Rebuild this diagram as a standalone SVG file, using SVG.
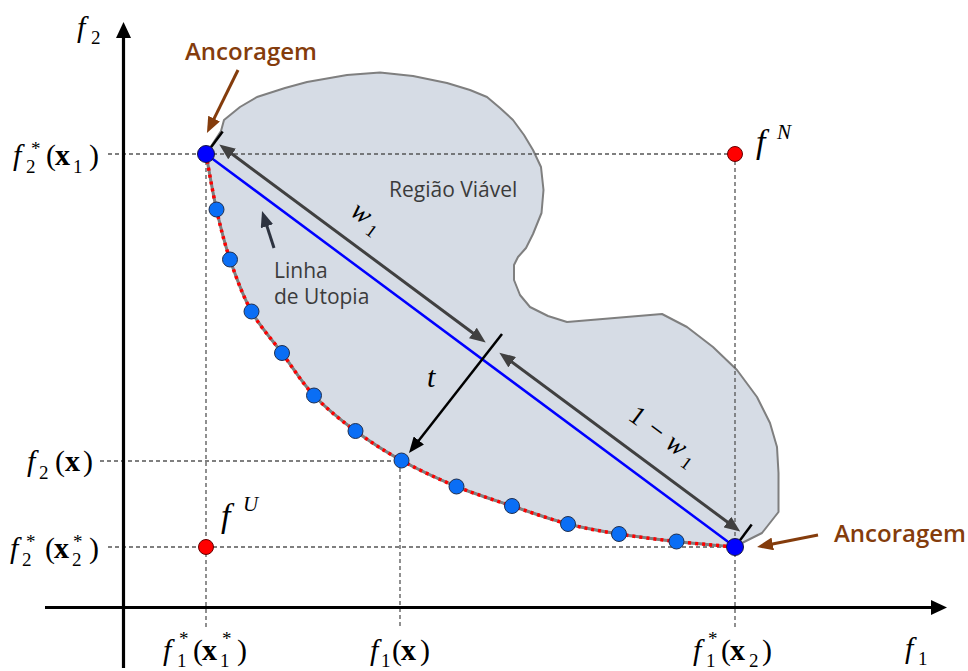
<svg xmlns="http://www.w3.org/2000/svg" width="968" height="671" viewBox="0 0 968 671">
<style>
.m{font-family:"Liberation Serif","Times New Roman",serif;font-size:30px;fill:#000}
.i{font-style:italic}
.b{font-weight:bold}
.s{font-size:19px}
.lbl{font-family:"Open Sans","Noto Sans",sans-serif;font-size:21px;fill:#3b3b3b}
.anc{font-family:"Open Sans","Noto Sans",sans-serif;font-size:24px;font-weight:600;fill:#843c0c}
.dash{stroke:#555;stroke-width:1.3;stroke-dasharray:4 3;fill:none}
.pt{fill:#0a6ef5;stroke:#1f2f4f;stroke-width:1}
.anchor{fill:#0000ff;stroke:#1a1a40;stroke-width:1}
.red{fill:#ff0000;stroke:#600;stroke-width:1}
</style>
<defs>
<marker id="ax" markerUnits="userSpaceOnUse" markerWidth="16" markerHeight="15" refX="8" refY="7.5" orient="auto-start-reverse"><path d="M0,0 L16,7.5 L0,15 z" fill="#000"/></marker>
<marker id="dg" markerUnits="userSpaceOnUse" markerWidth="16" markerHeight="13" refX="8" refY="6.5" orient="auto-start-reverse"><path d="M0,0 L16,6.5 L0,13 z" fill="#404040"/></marker>
<marker id="bk" markerUnits="userSpaceOnUse" markerWidth="16" markerHeight="13" refX="8" refY="6.5" orient="auto"><path d="M0,0 L16,6.5 L0,13 z" fill="#000"/></marker>
<marker id="nv" markerUnits="userSpaceOnUse" markerWidth="16" markerHeight="13" refX="8" refY="6.5" orient="auto"><path d="M0,0 L16,6.5 L0,13 z" fill="#2d3340"/></marker>
<marker id="br" markerUnits="userSpaceOnUse" markerWidth="16" markerHeight="13" refX="8" refY="6.5" orient="auto"><path d="M0,0 L16,6.5 L0,13 z" fill="#843c0c"/></marker>
</defs>

<g id="regiao-viavel">
<path d="M206,154 L221,131 L224,120 L240,107 L257,97 L285,88 L307,82 L347,75 L380,72.5 L413,76 L447,83 L470,90 L487,97 L500,108 L513,120 L524,135 L533,150 L541,167 L543.5,190 L541.5,213 L533,234 L526,248 L518,257 L514,265 L514,280 L520,295 L530,307 L548,316 L567,322 L662,314 L687,327 L713,347 L737,370 L757,397 L770,423 L777,447 L778.5,473 L778.5,512 L762,533 L742,543 L735,547 C725.25,546.1 695.8,543.7 676.5,541.5 C657.2,539.3 637.1,536.9 619,534 C600.9,531.1 585.8,528.7 568,524 C550.2,519.3 530.6,512.25 512,506 C493.4,499.75 474.9,494.1 456.5,486.5 C438.1,478.9 418.3,469.75 401.5,460.5 C384.7,451.25 370.1,441.8 355.5,431 C340.9,420.2 326.25,408.5 314,395.5 C301.75,382.5 292.4,367 282,353 C271.6,339 260.2,327.1 251.5,311.5 C242.8,295.9 235.8,276.5 230,259.5 C224.2,242.5 220.5,227.1 216.5,209.5 C212.5,191.9 207.75,163.25 206,154 Z" fill="#d6dce5" stroke="#7f7f7f" stroke-width="2" stroke-linejoin="round"/>
</g>

<g id="guias">
<line class="dash" x1="108" y1="154" x2="735" y2="154"/>
<line class="dash" x1="100" y1="461" x2="400" y2="461"/>
<line class="dash" x1="108" y1="547" x2="735" y2="547"/>
<line class="dash" x1="206" y1="154" x2="206" y2="627"/>
<line class="dash" x1="400" y1="461" x2="400" y2="627"/>
<line class="dash" x1="735" y1="154" x2="735" y2="627"/>
</g>

<g id="connectors">
<line x1="123.5" y1="668" x2="123.5" y2="30" stroke="#000" stroke-width="3.2" marker-end="url(#ax)"/>
<line x1="45" y1="607.5" x2="939" y2="607.5" stroke="#000" stroke-width="3.2" marker-end="url(#ax)"/>
<line id="linha-utopia" x1="206" y1="154" x2="735" y2="547" stroke="#0000ff" stroke-width="2.5"/>
<path id="fronteira" d="M206,154 C207.75,163.25 212.5,191.9 216.5,209.5 C220.5,227.1 224.2,242.5 230,259.5 C235.8,276.5 242.8,295.9 251.5,311.5 C260.2,327.1 271.6,339 282,353 C292.4,367 301.75,382.5 314,395.5 C326.25,408.5 340.9,420.2 355.5,431 C370.1,441.8 384.7,451.25 401.5,460.5 C418.3,469.75 438.1,478.9 456.5,486.5 C474.9,494.1 493.4,499.75 512,506 C530.6,512.25 550.2,519.3 568,524 C585.8,528.7 600.9,531.1 619,534 C637.1,536.9 657.2,539.3 676.5,541.5 C695.8,543.7 725.25,546.1 735,547" fill="none" stroke="#7f7f7f" stroke-width="3"/>
<path d="M206,154 C207.75,163.25 212.5,191.9 216.5,209.5 C220.5,227.1 224.2,242.5 230,259.5 C235.8,276.5 242.8,295.9 251.5,311.5 C260.2,327.1 271.6,339 282,353 C292.4,367 301.75,382.5 314,395.5 C326.25,408.5 340.9,420.2 355.5,431 C370.1,441.8 384.7,451.25 401.5,460.5 C418.3,469.75 438.1,478.9 456.5,486.5 C474.9,494.1 493.4,499.75 512,506 C530.6,512.25 550.2,519.3 568,524 C585.8,528.7 600.9,531.1 619,534 C637.1,536.9 657.2,539.3 676.5,541.5 C695.8,543.7 725.25,546.1 735,547" fill="none" stroke="#ff0000" stroke-width="3.5" stroke-dasharray="3 4"/>
<line x1="206" y1="154" x2="222.7" y2="131.5" stroke="#000" stroke-width="2.5"/>
<line x1="735" y1="547" x2="751.7" y2="524.5" stroke="#000" stroke-width="2.5"/>
<line x1="225.7" y1="149.3" x2="479.3" y2="337.7" stroke="#404040" stroke-width="3" marker-start="url(#dg)" marker-end="url(#dg)"/>
<line x1="505.8" y1="357.4" x2="733.8" y2="526.8" stroke="#404040" stroke-width="3" marker-start="url(#dg)" marker-end="url(#dg)"/>
<line x1="502" y1="334" x2="413.9" y2="446.7" stroke="#000" stroke-width="2.5" marker-end="url(#bk)"/>
<line x1="274" y1="248" x2="264.5" y2="218.6" stroke="#2d3340" stroke-width="3" marker-end="url(#nv)"/>
<line x1="238" y1="70" x2="210.5" y2="125.8" stroke="#843c0c" stroke-width="3" marker-end="url(#br)"/>
<line x1="818" y1="535" x2="764.9" y2="545.5" stroke="#843c0c" stroke-width="3" marker-end="url(#br)"/>
</g>

<g id="pontos-pareto">
<circle class="pt" cx="216.5" cy="209.5" r="7.5"/>
<circle class="pt" cx="230" cy="259.5" r="7.5"/>
<circle class="pt" cx="251.5" cy="311.5" r="7.5"/>
<circle class="pt" cx="282" cy="353" r="7.5"/>
<circle class="pt" cx="314" cy="395.5" r="7.5"/>
<circle class="pt" cx="355.5" cy="431" r="7.5"/>
<circle class="pt" cx="401.5" cy="460.5" r="7.5"/>
<circle class="pt" cx="456.5" cy="486.5" r="7.5"/>
<circle class="pt" cx="512" cy="506" r="7.5"/>
<circle class="pt" cx="568" cy="524" r="7.5"/>
<circle class="pt" cx="619" cy="534" r="7.5"/>
<circle class="pt" cx="676.5" cy="541.5" r="7.5"/>
</g>
<g id="ancora-1"><circle class="anchor" cx="206" cy="154" r="8.5"/></g>
<g id="ancora-2"><circle class="anchor" cx="735" cy="547" r="8.5"/></g>
<g id="ponto-nadir"><circle class="red" cx="735" cy="154" r="7.5"/>
<text class="m i"><tspan x="756" y="153" font-size="34">f</tspan><tspan x="777" y="139" font-size="21">N</tspan></text></g>
<g id="ponto-utopia"><circle class="red" cx="206" cy="547" r="7.5"/>
<text class="m i"><tspan x="221" y="527" font-size="34">f</tspan><tspan x="243" y="511" font-size="21">U</tspan></text></g>

<g id="rotulos">
<text class="anc" x="185" y="60">Ancoragem</text>
<text class="anc" x="834" y="542">Ancoragem</text>
<text class="lbl" x="389" y="197">Região Viável</text>
<text class="lbl" x="274" y="278">Linha</text>
<text class="lbl" x="274" y="304">de Utopia</text>
<text class="m i" x="427" y="387" font-size="28">t</text>
<text class="m" transform="translate(360,215) rotate(36.6)" text-anchor="middle"><tspan class="i" y="6" font-size="28">w</tspan><tspan y="12" font-size="18">1</tspan></text>
<text class="m" transform="translate(636,418) rotate(36.6)" text-anchor="middle"><tspan y="6" font-size="27">1</tspan><tspan y="6" dx="10" font-size="27">−</tspan><tspan class="i" dx="10" y="6" font-size="28">w</tspan><tspan y="12" font-size="18">1</tspan></text>
</g>

<g id="eixo-f2"><text class="m"><tspan class="i" x="77" y="37">f</tspan><tspan class="s" x="91" y="44">2</tspan></text></g>
<g id="eixo-f1"><text class="m"><tspan class="i" x="905" y="658">f</tspan><tspan class="s" x="918" y="665">1</tspan></text></g>

<g id="rotulo-f2-x1"><text class="m"><tspan class="i" x="13" y="165">f</tspan><tspan class="s" x="26" y="173">2</tspan><tspan class="s" x="31" y="155">*</tspan><tspan x="46" y="165">(</tspan><tspan class="b" x="55" y="165">x</tspan><tspan class="s" x="73" y="173">1</tspan><tspan x="89" y="165">)</tspan></text></g>
<g id="rotulo-f2-x"><text class="m"><tspan class="i" x="27" y="471">f</tspan><tspan class="s" x="39" y="479">2</tspan><tspan x="55" y="471">(</tspan><tspan class="b" x="65" y="471">x</tspan><tspan x="83" y="471">)</tspan></text></g>
<g id="rotulo-f2-x2"><text class="m"><tspan class="i" x="10" y="558">f</tspan><tspan class="s" x="22" y="566">2</tspan><tspan class="s" x="26" y="548">*</tspan><tspan x="45" y="558">(</tspan><tspan class="b" x="54" y="558">x</tspan><tspan class="s" x="72" y="566">2</tspan><tspan class="s" x="73" y="548">*</tspan><tspan x="89" y="558">)</tspan></text></g>
<g id="rotulo-f1-x1"><text class="m"><tspan class="i" x="163" y="660">f</tspan><tspan class="s" x="177" y="667">1</tspan><tspan class="s" x="179" y="645">*</tspan><tspan x="193" y="660">(</tspan><tspan class="b" x="202" y="660">x</tspan><tspan class="s" x="220" y="667">1</tspan><tspan class="s" x="222" y="645">*</tspan><tspan x="237" y="660">)</tspan></text></g>
<g id="rotulo-f1-x"><text class="m"><tspan class="i" x="370" y="660">f</tspan><tspan class="s" x="381" y="667">1</tspan><tspan x="392" y="660">(</tspan><tspan class="b" x="401" y="660">x</tspan><tspan x="420" y="660">)</tspan></text></g>
<g id="rotulo-f1-x2"><text class="m"><tspan class="i" x="693" y="660">f</tspan><tspan class="s" x="706" y="667">1</tspan><tspan class="s" x="708" y="645">*</tspan><tspan x="721" y="660">(</tspan><tspan class="b" x="730" y="660">x</tspan><tspan class="s" x="749" y="667">2</tspan><tspan x="762" y="660">)</tspan></text></g>
</svg>
